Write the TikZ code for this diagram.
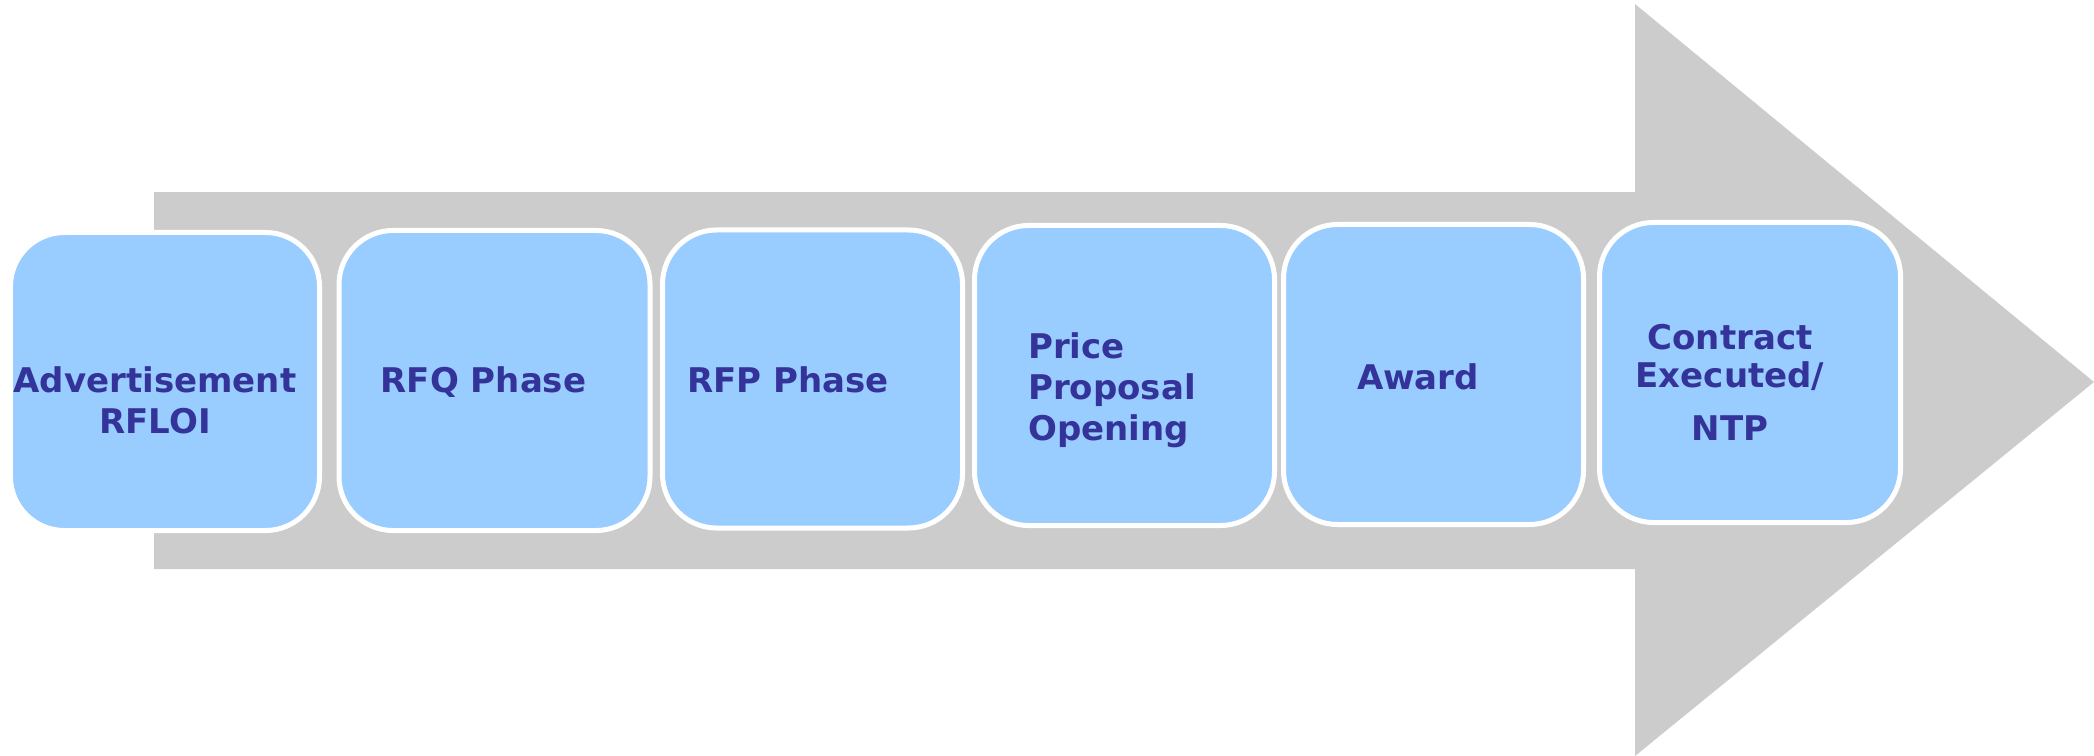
\documentclass[tikz,border=0pt]{standalone}
\usepackage{fontspec}
\setmainfont{DejaVu Sans}
\usepackage{color}
\definecolor{arrowGray}{RGB}{204,204,204}
\definecolor{phaseBlue}{RGB}{153,204,255}
\definecolor{phaseText}{RGB}{51,51,153}

\begin{document}
\begin{tikzpicture}[x=1bp, y=-1bp, text=phaseText]
		\useasboundingbox (0,0) rectangle (2094,756);
		% big arrow behind the phases
		\fill[arrowGray] (154,192) -- (1635,192) -- (1635,4) -- (2094,382)
			-- (1635,756) -- (1635,569) -- (154,569) -- cycle;
		\begin{scope}[every node/.style={rectangle, rounded corners=54bp, draw=white, line width=5bp, fill=phaseBlue}]
			\node (advert) at (165,381.5) [minimum width=309bp, minimum height=298bp] {};
			\node (rfq) at (494.5,380.5) [minimum width=311bp, minimum height=300bp] {};
			\node (rfp) at (812.5,379) [minimum width=300bp, minimum height=298bp] {};
			\node (price) at (1124.5,375.5) [minimum width=300bp, minimum height=300bp] {};
			\node (award) at (1433.5,374.5) [minimum width=300bp, minimum height=300bp] {};
			\node (contract) at (1750,372.5) [minimum width=301bp, minimum height=300bp] {};
		\end{scope}
		\begin{scope}[every node/.style={inner sep=0pt, font=\fontsize{34bp}{41bp}\selectfont\bfseries}]
			\node (advertT) at (155,433) [anchor=base, align=center] {Advertisement\\RFLOI};
			\node (rfqT) at (483.5,392) [anchor=base] {RFQ Phase};
			\node (rfpT) at (788,392) [anchor=base] {RFP Phase};
			\node (priceT) at (1028,440) [anchor=base west, align=left] {Price\\Proposal\\Opening};
			\node (awardT) at (1418,389) [anchor=base] {Award};
			\node (contractT) at (1730,440) [anchor=base, align=center] {Contract\\[-3bp]Executed/\\[12bp]NTP};
		\end{scope}
	\end{tikzpicture}
\end{document}
